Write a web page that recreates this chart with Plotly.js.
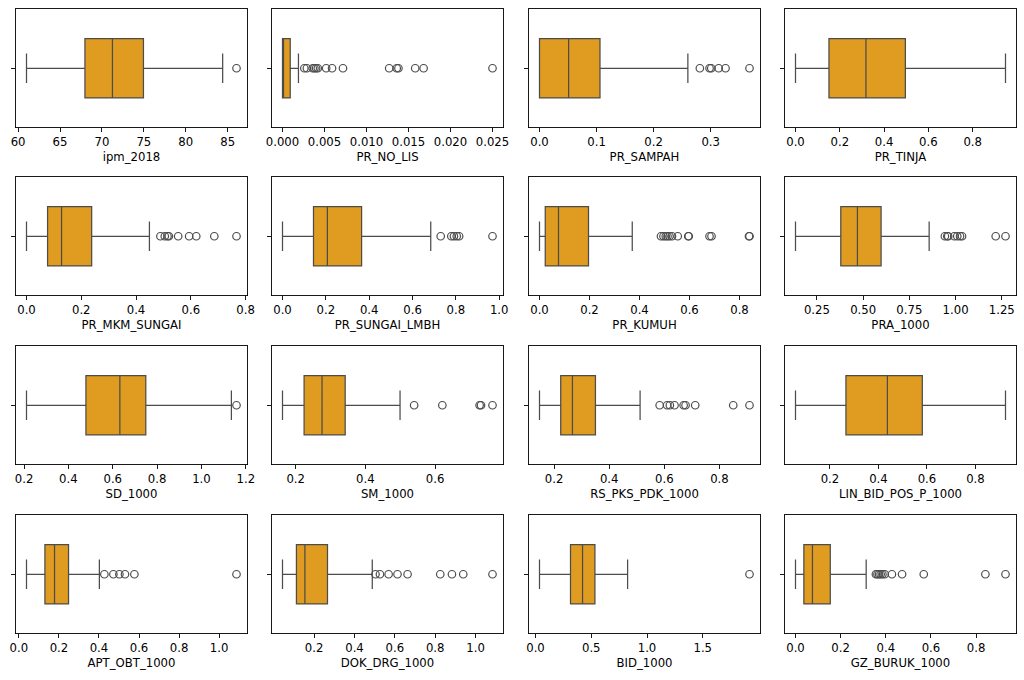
<!DOCTYPE html>
<html><head><meta charset="utf-8">
<script src="https://cdn.plot.ly/plotly-3.0.1.min.js"></script>
<style>html,body{margin:0;padding:0;background:#fff}#chart{width:1024px;height:680px}</style>
</head><body><div id="chart"></div>
<script>
const variables = ['ipm_2018','PR_NO_LIS','PR_SAMPAH','PR_TINJA',
  'PR_MKM_SUNGAI','PR_SUNGAI_LMBH','PR_KUMUH','PRA_1000',
  'SD_1000','SM_1000','RS_PKS_PDK_1000','LIN_BID_POS_P_1000',
  'APT_OBT_1000','DOK_DRG_1000','BID_1000','GZ_BURUK_1000'];
const lowerWhisker = [61.0, 0, 0, 0, 0, 0, 0, 0.134, 0.211, 0.162, 0.147, 0.058, 0.038, 0.043, 0.036, 0];
const q1 = [67.97, 0, 0, 0.151, 0.077, 0.143, 0.023, 0.379, 0.479, 0.224, 0.224, 0.266, 0.130, 0.112, 0.314, 0.037];
const medians = [71.25, 0.00012, 0.051, 0.318, 0.128, 0.207, 0.076, 0.469, 0.632, 0.2755, 0.2665, 0.437, 0.178, 0.154, 0.422, 0.075];
const q3 = [74.95, 0.00092, 0.106, 0.496, 0.238, 0.365, 0.196, 0.597, 0.749, 0.342, 0.350, 0.581, 0.248, 0.266, 0.533, 0.154];
const upperWhisker = [84.4, 0.0019, 0.260, 0.948, 0.449, 0.684, 0.371, 0.857, 1.135, 0.4995, 0.512, 0.924, 0.402, 0.488, 0.826, 0.313];
const outliers = [
  [86.05],
  [0.0026,0.0029,0.0036,0.0038,0.0040,0.0042,0.0052,0.0059,0.0072,0.0127,0.0136,0.0138,0.0158,0.0168,0.0250],
  [0.281,0.298,0.301,0.314,0.326,0.368],
  [],
  [0.489,0.505,0.515,0.520,0.554,0.594,0.620,0.686,0.767],
  [0.730,0.779,0.791,0.804,0.815,0.969],
  [0.486,0.496,0.505,0.512,0.520,0.530,0.553,0.595,0.597,0.680,0.688,0.838,0.840],
  [0.942,0.955,0.960,0.993,1.009,1.024,1.035,1.217,1.270],
  [1.158],
  [0.540,0.621,0.728,0.732,0.765],
  [0.583,0.610,0.620,0.637,0.670,0.677,0.712,0.850,0.909],
  [],
  [0.427,0.472,0.502,0.530,0.577,1.087],
  [0.504,0.526,0.569,0.613,0.663,0.825,0.883,0.939,1.084],
  [1.919],
  [0.356,0.363,0.370,0.377,0.385,0.395,0.427,0.472,0.568,0.841,0.930]
];
const tickLabels = [
  ['60','65','70','75','80','85'],
  ['0.000','0.005','0.010','0.015','0.020','0.025'],
  ['0.0','0.1','0.2','0.3'],
  ['0.0','0.2','0.4','0.6','0.8'],
  ['0.0','0.2','0.4','0.6','0.8'],
  ['0.0','0.2','0.4','0.6','0.8','1.0'],
  ['0.0','0.2','0.4','0.6','0.8'],
  ['0.25','0.50','0.75','1.00','1.25'],
  ['0.2','0.4','0.6','0.8','1.0','1.2'],
  ['0.2','0.4','0.6'],
  ['0.2','0.4','0.6','0.8'],
  ['0.2','0.4','0.6','0.8'],
  ['0.0','0.2','0.4','0.6','0.8','1.0'],
  ['0.2','0.4','0.6','0.8','1.0'],
  ['0.0','0.5','1.0','1.5'],
  ['0.0','0.2','0.4','0.6','0.8']
];

const W = 1024, H = 680;
const colLeft = [16, 272, 529, 785], panelW = 231;
const rowTop = [9, 177, 346, 515], panelH = 118.5;
const fill = '#DF9C20', lineCol = '#4c4c4c';
const font = {family: 'DejaVu Sans', size: 11.7, color: '#000'};

const data = [], layout = {
  width: W, height: H, margin: {l:0, r:0, t:0, b:0},
  paper_bgcolor: '#fff', plot_bgcolor: '#fff', showlegend: false, font: font
};

variables.forEach((name, i) => {
  const r = Math.floor(i / 4), c = i % 4;
  const sfx = i === 0 ? '' : String(i + 1);
  const xa = 'x' + sfx, ya = 'y' + sfx;
  data.push({
    type: 'box', orientation: 'h', y: [0],
    q1: [q1[i]], median: [medians[i]], q3: [q3[i]],
    lowerfence: [lowerWhisker[i]], upperfence: [upperWhisker[i]],
    width: 1, whiskerwidth: 0.5,
    fillcolor: fill, line: {color: lineCol, width: 1.25},
    xaxis: xa, yaxis: ya, hoverinfo: 'skip', boxpoints: false
  });
  if (outliers[i].length) {
    data.push({
      type: 'scatter', mode: 'markers', x: outliers[i], y: outliers[i].map(() => 0),
      marker: {symbol: 'circle-open', size: 7.5, color: lineCol, line: {width: 1.2, color: lineCol}},
      xaxis: xa, yaxis: ya, hoverinfo: 'skip', cliponaxis: false
    });
  }
  const all = [lowerWhisker[i], upperWhisker[i], ...outliers[i]];
  const lo = Math.min(...all), hi = Math.max(...all), pad = 0.05 * (hi - lo);
  const x0 = colLeft[c] / W, x1 = (colLeft[c] + panelW) / W;
  const y1 = 1 - rowTop[r] / H, y0 = 1 - (rowTop[r] + panelH) / H;
  layout['xaxis' + sfx] = {
    domain: [x0, x1], anchor: ya, range: [lo - pad, hi + pad],
    tickvals: tickLabels[i].map(Number), ticktext: tickLabels[i],
    ticks: 'outside', ticklen: 4, tickwidth: 0.9, tickcolor: '#000',
    showline: true, mirror: true, linecolor: '#000', linewidth: 0.9,
    showgrid: false, zeroline: false, tickfont: font,
    title: {text: name, font: font, standoff: 4}
  };
  layout['yaxis' + sfx] = {
    domain: [y0, y1], anchor: xa, range: [1, -1],
    tickvals: [0], ticktext: [''],
    ticks: 'outside', ticklen: 4, tickwidth: 0.9, tickcolor: '#000',
    showline: true, mirror: true, linecolor: '#000', linewidth: 0.9,
    showgrid: false, zeroline: false
  };
});

Plotly.newPlot('chart', data, layout, {staticPlot: true, displayModeBar: false});
</script>
</body></html>
